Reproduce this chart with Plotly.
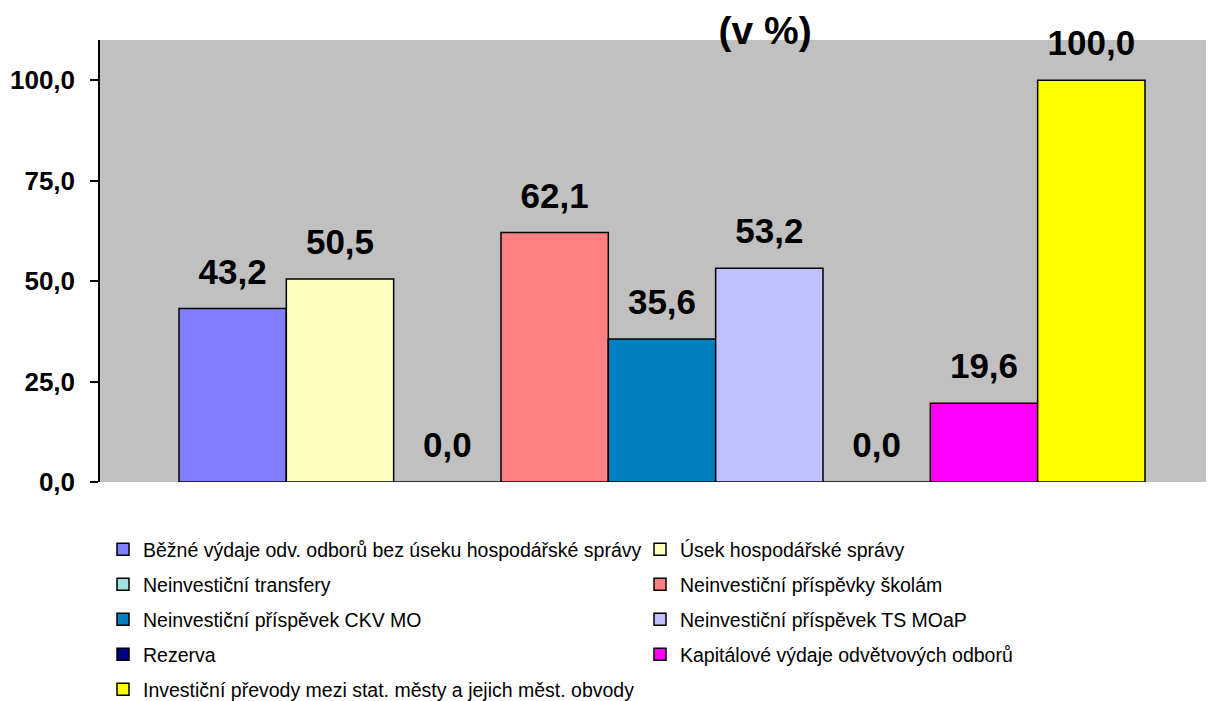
import plotly.graph_objects as go

series_names = [
    "Běžné výdaje odv. odborů bez úseku hospodářské správy",
    "Úsek hospodářské správy",
    "Neinvestiční transfery",
    "Neinvestiční příspěvky školám",
    "Neinvestiční příspěvek CKV MO",
    "Neinvestiční příspěvek TS MOaP",
    "Rezerva",
    "Kapitálové výdaje odvětvových odborů",
    "Investiční převody mezi stat. městy a jejich měst. obvody",
]
series_values = [43.2, 50.5, 0.0, 62.1, 35.6, 53.2, 0.0, 19.6, 100.0]
series_colors = ["#8080FF", "#FFFFC0", "#A0E0E0", "#FF8080", "#0080C0",
                 "#C0C0FF", "#000080", "#FF00FF", "#FFFF00"]
bar_slots = list(range(len(series_names)))   # position of each series within the single group
y_ticks = [0, 25, 50, 75, 100]

FONT = "Arial, 'Liberation Sans', sans-serif"

fig = go.Figure()
for slot, name, val, col in zip(bar_slots, series_names, series_values, series_colors):
    fig.add_trace(go.Bar(
        x=[slot], y=[val], name=name, width=1, legendgroup=f"g{slot}",
        marker=dict(color=col, line=dict(color="black", width=1.5)),
        hoverinfo="name+y",
    ))

# data labels above the bars
fig.add_trace(go.Scatter(
    x=bar_slots, y=series_values, mode="markers+text",
    texttemplate="%{y:.1f}", textposition="top center",
    textfont=dict(family=FONT, size=35, color="black", weight="bold"),
    marker=dict(size=24, color="rgba(0,0,0,0)"),
    showlegend=False, hoverinfo="skip", cliponaxis=False,
))

fig.update_layout(
    width=1214, height=701,
    margin=dict(l=92, r=8, t=32, b=227, autoexpand=False),
    paper_bgcolor="white", plot_bgcolor="#C0C0C0",
    barmode="overlay",
    separators=", ",
    font=dict(family=FONT, color="black"),
    title=dict(text="(v %)", x=0.597, xref="paper", xanchor="center",
               y=0.9686, yref="container", yanchor="middle",
               font=dict(family=FONT, size=39, color="black", weight="bold")),
    showlegend=True,
    legend=dict(orientation="h", x=0.0027, xanchor="left", y=-0.1086, yanchor="top",
                entrywidth=492, entrywidthmode="pixels",
                tracegroupgap=6.65, traceorder="grouped",
                font=dict(family=FONT, size=19.5, color="black"),
                bgcolor="rgba(0,0,0,0)"),
    xaxis=dict(range=[-1.236, 9.143], showticklabels=False, showgrid=False,
               showline=False, zeroline=False, ticks=""),
    yaxis=dict(range=[0, 110], tickvals=y_ticks, tickformat=".1f",
               showgrid=False, zeroline=False, showline=True, linecolor="black",
               linewidth=1.5, ticks="outside", ticklen=8, tickcolor="black",
               tickwidth=1.5, ticklabelstandoff=10,
               tickfont=dict(family=FONT, size=26, color="black", weight="bold")),
)

fig.write_html("out.html")
